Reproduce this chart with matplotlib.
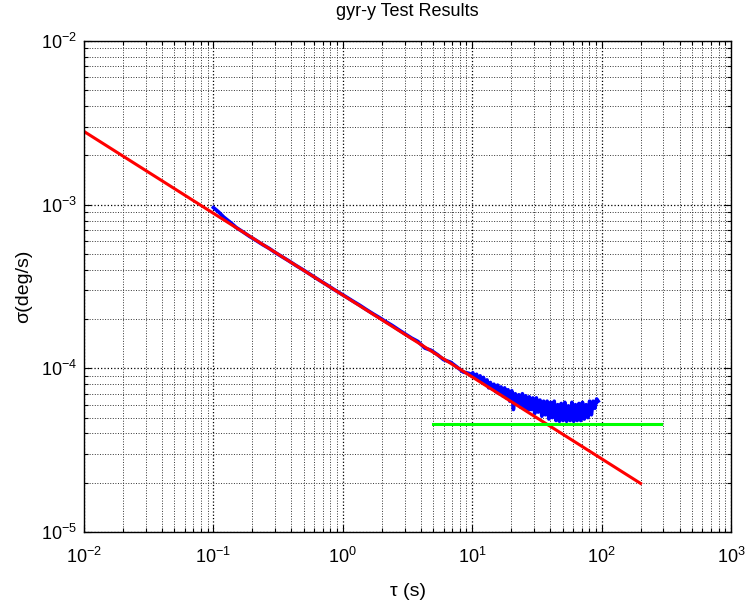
import matplotlib
matplotlib.use("Agg")
import matplotlib.pyplot as plt
from matplotlib.ticker import LogLocator, NullFormatter

plt.rcParams['font.family'] = ['Liberation Sans', 'DejaVu Sans']
plt.rcParams['mathtext.default'] = 'regular'

# Measured Allan deviation of the y-axis gyro
tau_meas = [0.100, 0.110, 0.120, 0.135, 0.150, 0.17, 0.19, 0.21, 0.24, 0.27,
            0.30, 0.34, 0.38, 0.43, 0.48, 0.54, 0.60, 0.68, 0.76, 0.85,
            0.95, 1.07, 1.20, 1.35, 1.5, 1.7, 1.9, 2.1, 2.4, 2.7,
            3.0, 3.4, 3.8, 4.3, 4.8, 5.4, 6.0, 6.8, 7.6, 8.5,
            9.5, 9.8, 10.1, 10.4, 10.8, 11.1, 11.5, 11.8, 12.2, 12.6,
            13.0, 13.4, 13.8, 14.3, 14.7, 15.2, 15.7, 16.2, 16.7, 17.2,
            17.8, 18.3, 18.9, 19.5, 20.2, 20.8, 21.5, 22.2, 22.9, 23.6,
            24.4, 25.1, 25.9, 26.8, 27.6, 28.5, 29.4, 30.4, 31.3, 32.3,
            33.4, 34.5, 35.6, 36.7, 37.9, 39.1, 40.3, 41.6, 43.0, 44.4,
            45.8, 47.2, 48.7, 50.3, 51.9, 53.6, 55.3, 57.1, 58.9, 60.8,
            62.7, 64.7, 66.8, 68.9, 71.1, 73.4, 75.8, 78.2, 80.7, 83.3,
            85.9, 88.7, 91.5, 94.0]
sigma_meas = [9.6e-4, 9.0e-4, 8.4e-4, 7.8e-4, 7.25e-4, 6.8e-4, 6.4e-4, 6.1e-4, 5.7e-4, 5.4e-4,
              5.1e-4, 4.8e-4, 4.55e-4, 4.27e-4, 4.05e-4, 3.82e-4, 3.62e-4, 3.40e-4, 3.22e-4, 3.04e-4,
              2.88e-4, 2.72e-4, 2.57e-4, 2.43e-4, 2.30e-4, 2.16e-4, 2.05e-4, 1.95e-4, 1.83e-4, 1.72e-4,
              1.63e-4, 1.53e-4, 1.46e-4, 1.33e-4, 1.29e-4, 1.21e-4, 1.13e-4, 1.09e-4, 1.02e-4, 9.5e-5,
              9.3e-5, 9.0e-5, 9.4e-5, 8.8e-5, 9.2e-5, 8.5e-5, 9.0e-5, 8.3e-5, 8.8e-5, 8.0e-5,
              8.5e-5, 7.6e-5, 8.2e-5, 7.5e-5, 8.0e-5, 7.2e-5, 7.9e-5, 7.0e-5, 7.7e-5, 6.8e-5,
              7.6e-5, 6.6e-5, 7.4e-5, 6.3e-5, 7.3e-5, 5.6e-5, 7.0e-5, 6.1e-5, 6.9e-5, 5.8e-5,
              7.0e-5, 5.7e-5, 6.8e-5, 5.5e-5, 6.7e-5, 5.6e-5, 6.6e-5, 5.3e-5, 6.6e-5, 5.4e-5,
              6.4e-5, 5.1e-5, 6.3e-5, 5.2e-5, 6.3e-5, 4.9e-5, 6.2e-5, 5.0e-5, 6.3e-5, 4.8e-5,
              6.0e-5, 4.75e-5, 6.1e-5, 4.8e-5, 6.2e-5, 4.75e-5, 5.9e-5, 4.8e-5, 6.2e-5, 4.75e-5,
              6.0e-5, 4.8e-5, 6.1e-5, 4.8e-5, 6.2e-5, 4.9e-5, 6.0e-5, 5.0e-5, 6.3e-5, 5.2e-5,
              6.3e-5, 5.7e-5, 6.5e-5, 6.3e-5]

# Angle random walk fit (slope -1/2)
tau_fit = [0.01, 200.0]
sigma_fit = [2.8e-3, 1.98e-5]

# Bias instability level
tau_bias = [5.0, 290.0]
sigma_bias = [4.6e-5, 4.6e-5]

fig = plt.figure(figsize=(7.45, 6.01), dpi=100)
ax = fig.add_axes([0.1128, 0.1148, 0.8685, 0.817])

ax.loglog(tau_meas, sigma_meas, color='#0000ff', linewidth=2.6)
ax.loglog(tau_fit, sigma_fit, color='#ff0000', linewidth=2.2)
ax.loglog(tau_bias, sigma_bias, color='#00ff00', linewidth=2.2)

ax.set_xlim(1e-2, 1e3)
ax.set_ylim(1e-5, 1e-2)

ax.xaxis.set_major_locator(LogLocator(base=10, numticks=10))
ax.yaxis.set_major_locator(LogLocator(base=10, numticks=10))
ax.xaxis.set_minor_locator(LogLocator(base=10, subs=range(2, 10), numticks=20))
ax.yaxis.set_minor_locator(LogLocator(base=10, subs=range(2, 10), numticks=20))
ax.xaxis.set_minor_formatter(NullFormatter())
ax.yaxis.set_minor_formatter(NullFormatter())

ax.grid(True, which='major', linestyle=':', color='#000000', linewidth=0.9)
ax.grid(True, which='minor', linestyle=':', color='#333333', linewidth=0.7)

ax.tick_params(which='both', direction='in', top=True, right=True, labelsize=13)
ax.tick_params(which='major', length=5, width=0.8)
ax.tick_params(which='minor', length=3, width=0.8)
ax.tick_params(axis='x', which='major', pad=11)
ax.tick_params(axis='y', which='major', pad=5)
for s in ax.spines.values():
    s.set_linewidth(1.0)

ax.set_title('gyr-y Test Results', fontsize=13, pad=18)
ax.set_xlabel('\u03c4 (s)', fontsize=14, labelpad=11)
ax.set_ylabel('\u03c3(deg/s)', fontsize=14, labelpad=6)

fig.savefig('out.png', dpi=100)
